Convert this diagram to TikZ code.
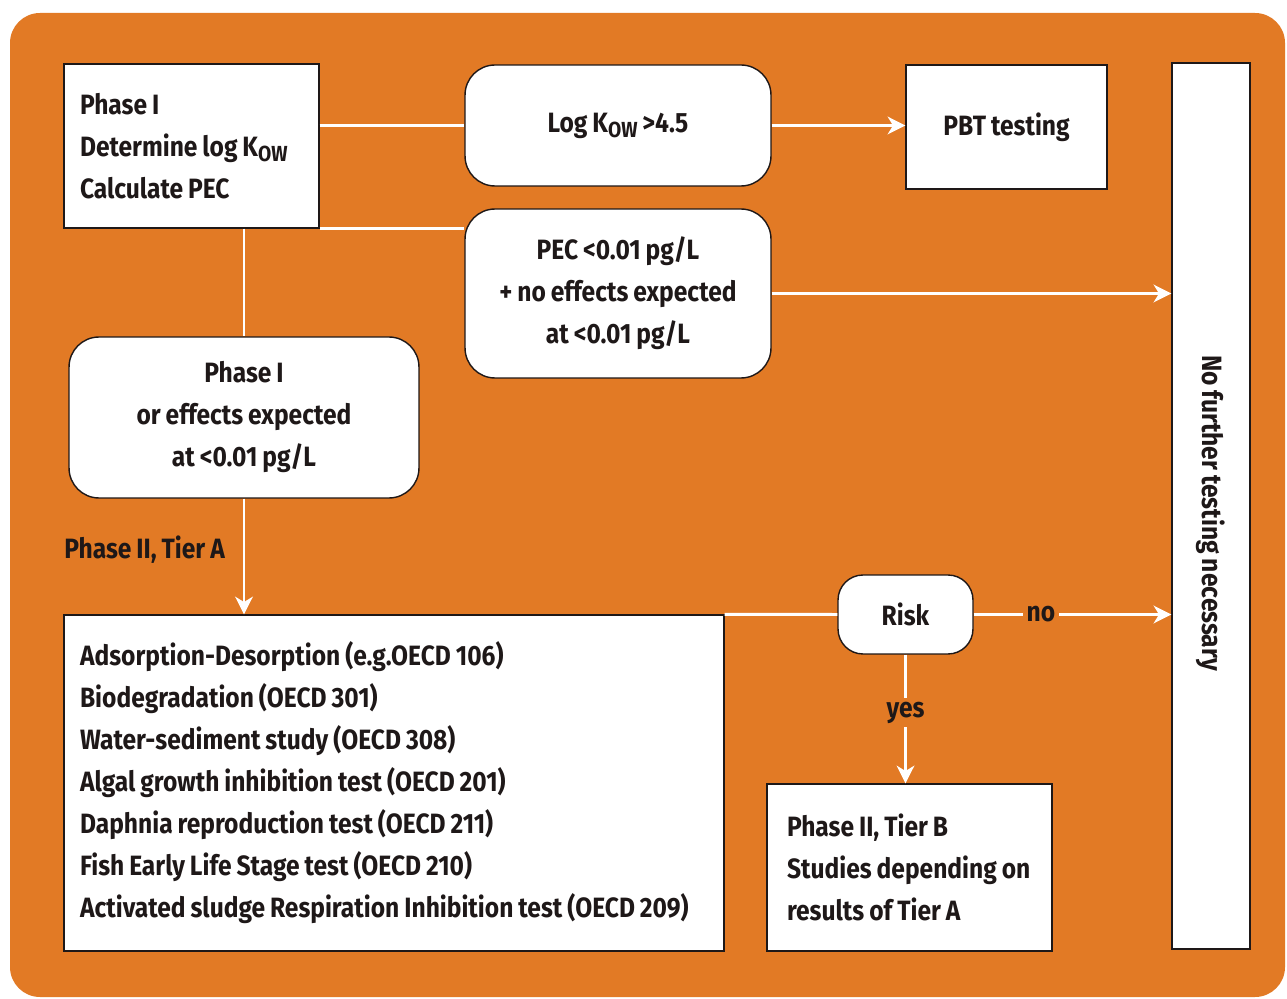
\documentclass[tikz,border=0pt]{standalone}
\usepackage{fontspec}
\setmainfont{Fira Sans}[FakeStretch=0.88, WordSpace=0.85]
\usetikzlibrary{arrows.meta}

\definecolor{bgorange}{RGB}{226,122,37}
\definecolor{inkdark}{RGB}{30,24,24}
\newcommand{\flowfont}{\fontsize{15.9}{23.9}\selectfont\bfseries}
\newcommand{\kow}{K\raisebox{-0.35ex}{\fontsize{12.4}{12.4}\selectfont OW}}

\tikzset{
  box/.style={draw=inkdark, line width=0.8pt, fill=white, text=inkdark, font=\flowfont},
  listbox/.style={box, align=flush left, inner xsep=0.32cm},
  roundbox/.style={box, rounded corners=0.6cm, align=center},
  conn/.style={draw=white, line width=1.7pt},
  flow/.style={conn, -{Stealth[length=10pt, width=10pt, inset=3pt]}, white},
  lbl/.style={text=inkdark, font=\flowfont, fill=bgorange, inner sep=2pt}
}

\begin{document}
\begin{tikzpicture}[x=0.02cm, y=-0.02cm]
        % Page and orange panel
        \useasboundingbox (0,0) rectangle (1287,999);
        \fill[bgorange, rounded corners=0.6cm] (10,13) rectangle (1285,997);

        % Phase I
        \node[listbox, text width=4.46cm, minimum height=3.28cm] (phaseI) at (191.5,146)
            {Phase I\\Determine log \kow\\Calculate PEC};
        \node[roundbox, minimum width=6.12cm, minimum height=2.42cm] (logkow) at (618,125.5)
            {Log \kow{} >4.5};
        \node[box, minimum width=4.02cm, minimum height=2.48cm] (pbt) at (1006.5,127) {PBT testing};
        \node[roundbox, minimum width=6.12cm, minimum height=3.38cm] (pec) at (618,293.5)
            {PEC <0.01 pg/L\\+ no effects expected\\at <0.01 pg/L};
        \node[roundbox, minimum width=7.0cm, minimum height=3.22cm] (phaseIor) at (244,417.5)
            {Phase I\\or effects expected\\at <0.01 pg/L};

        % Phase II
        \node[lbl, anchor=west, inner sep=0pt] (tierAlbl) at (64,550) {Phase II, Tier A};
        \node[listbox, text width=12.56cm, minimum height=6.72cm] (tierA) at (394,783)
            {Adsorption-Desorption (e.g.OECD 106)\\
             Biodegradation (OECD 301)\\
             Water-sediment study (OECD 308)\\
             Algal growth inhibition test (OECD 201)\\
             Daphnia reproduction test (OECD 211)\\
             Fish Early Life Stage test (OECD 210)\\
             Activated sludge Respiration Inhibition test (OECD 209)};
        \node[roundbox, rounded corners=0.5cm, minimum width=2.7cm, minimum height=1.58cm] (risk) at (905.5,614.5) {Risk};
        \node[listbox, inner xsep=0.4cm, text width=4.9cm, minimum height=3.34cm] (tierB) at (909.5,867.5)
            {Phase II, Tier B\\Studies depending on\\results of Tier A};
        \node[box, minimum width=1.56cm, minimum height=17.72cm] (nofurther) at (1211,506) {};
        \node[text=inkdark, font=\flowfont, rotate=-90] (nofurthertxt) at (1211,513) {No further testing necessary};

        % Connectors
        \draw[conn] (logkow.west -| phaseI.east) -- (logkow.west);
        \draw[flow] (logkow.east) -- (logkow.east -| pbt.west);
        \draw[conn] (phaseI.south east) -- (phaseI.south east -| pec.west);
        \draw[flow] (pec.east) -- (pec.east -| nofurther.west);
        \draw[conn] (phaseI.south -| phaseIor.north) -- (phaseIor.north);
        \draw[flow] (phaseIor.south) -- (phaseIor.south |- tierA.north);
        \draw[conn] (tierA.north east) -- (risk.west);
        \draw[flow] (risk.east) -- node[lbl, pos=0.34] {no} (risk.east -| nofurther.west);
        \draw[flow] (risk.south) -- node[lbl, pos=0.45] {yes} (risk.south |- tierB.north);
\end{tikzpicture}
\end{document}
